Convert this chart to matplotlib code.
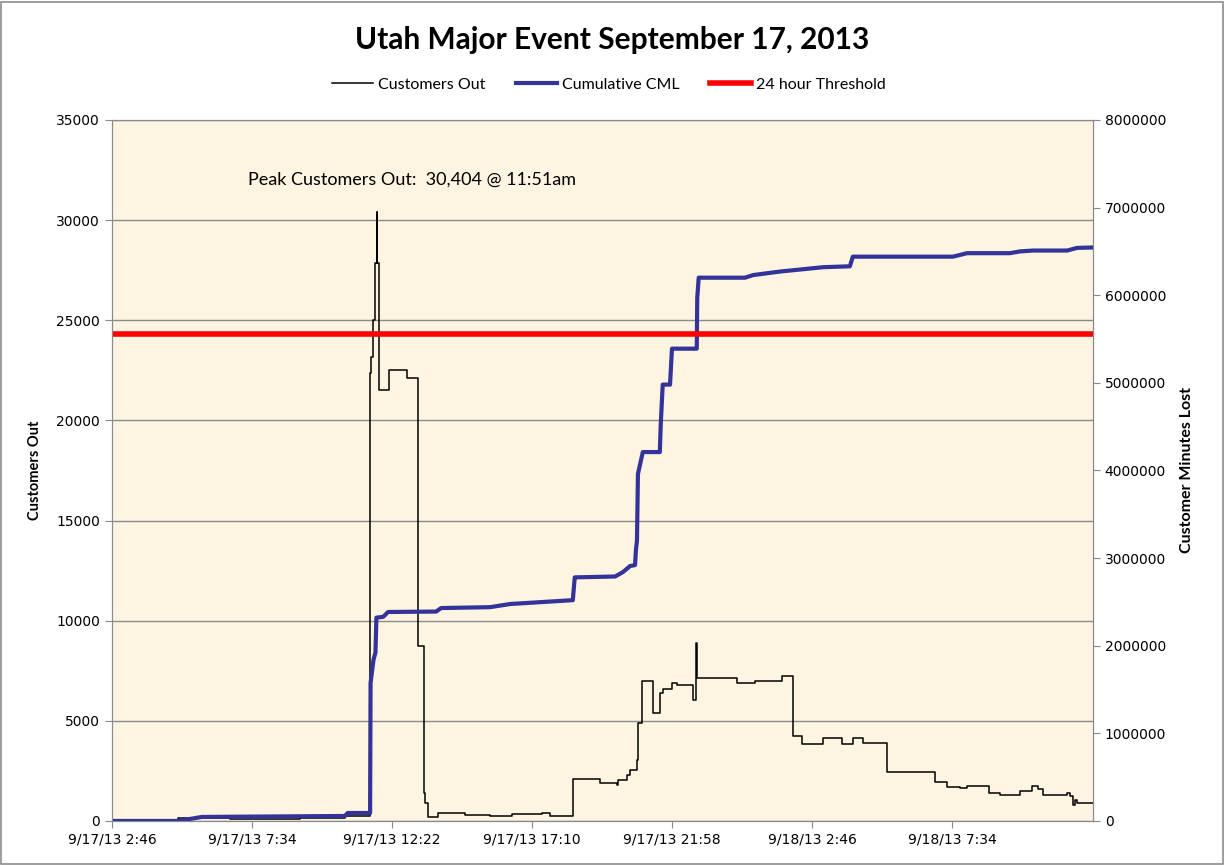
import numpy as np
import pandas as pd
import matplotlib
matplotlib.use("Agg")
import matplotlib.pyplot as plt
from matplotlib.patches import Rectangle
from matplotlib.ticker import FuncFormatter

# customers out (left axis), step values
out_times = ["2013-09-17 02:46", "2013-09-17 05:02", "2013-09-17 06:49", "2013-09-17 09:13",
             "2013-09-17 10:45", "2013-09-17 11:37", "2013-09-17 11:39", "2013-09-17 11:44",
             "2013-09-17 11:48", "2013-09-17 11:51", "2013-09-17 11:52", "2013-09-17 11:55",
             "2013-09-17 12:16", "2013-09-17 12:53", "2013-09-17 13:15", "2013-09-17 13:28",
             "2013-09-17 13:30", "2013-09-17 13:36", "2013-09-17 13:57", "2013-09-17 14:07",
             "2013-09-17 14:52", "2013-09-17 15:44", "2013-09-17 16:29", "2013-09-17 17:31",
             "2013-09-17 17:47", "2013-09-17 18:34", "2013-09-17 19:30", "2013-09-17 20:05",
             "2013-09-17 20:07", "2013-09-17 20:25", "2013-09-17 20:32", "2013-09-17 20:46",
             "2013-09-17 20:48", "2013-09-17 20:56", "2013-09-17 21:19", "2013-09-17 21:33",
             "2013-09-17 21:39", "2013-09-17 21:58", "2013-09-17 22:08", "2013-09-17 22:41",
             "2013-09-17 22:47", "2013-09-17 22:49", "2013-09-18 00:12", "2013-09-18 00:49",
             "2013-09-18 01:44", "2013-09-18 02:07", "2013-09-18 02:25", "2013-09-18 03:09",
             "2013-09-18 03:48", "2013-09-18 04:10", "2013-09-18 04:31", "2013-09-18 05:20",
             "2013-09-18 06:59", "2013-09-18 07:24", "2013-09-18 07:50", "2013-09-18 08:05",
             "2013-09-18 08:50", "2013-09-18 09:13", "2013-09-18 09:54", "2013-09-18 10:19",
             "2013-09-18 10:31", "2013-09-18 10:41", "2013-09-18 11:31", "2013-09-18 11:37",
             "2013-09-18 11:43", "2013-09-18 11:47", "2013-09-18 11:51", "2013-09-18 12:24"]
customers_out = [20, 150, 120, 150,
                 250, 22370, 23170, 25000,
                 27860, 30404, 27860, 21520,
                 22520, 22120, 8740, 1400,
                 900, 200, 400, 420,
                 300, 250, 350, 420,
                 250, 2100, 1900, 1800,
                 2050, 2300, 2550, 3050,
                 4900, 7000, 5390, 6390,
                 6600, 6890, 6790, 6040,
                 8900, 7140, 6890, 6990,
                 7240, 4240, 3840, 4140,
                 3840, 4140, 3900, 2450,
                 1950, 1700, 1650, 1750,
                 1400, 1300, 1500, 1750,
                 1600, 1300, 1400, 1250,
                 800, 1050, 900, 900]

# cumulative customer minutes lost (right axis)
cml_times = ["2013-09-17 02:46", "2013-09-17 05:02", "2013-09-17 05:51", "2013-09-17 10:45",
             "2013-09-17 10:51", "2013-09-17 11:33", "2013-09-17 11:37", "2013-09-17 11:38",
             "2013-09-17 11:44", "2013-09-17 11:48", "2013-09-17 11:50", "2013-09-17 12:04",
             "2013-09-17 12:14", "2013-09-17 13:53", "2013-09-17 14:03", "2013-09-17 15:44",
             "2013-09-17 16:25", "2013-09-17 18:34", "2013-09-17 18:38", "2013-09-17 20:01",
             "2013-09-17 20:17", "2013-09-17 20:32", "2013-09-17 20:42", "2013-09-17 20:44",
             "2013-09-17 20:46", "2013-09-17 20:48", "2013-09-17 20:58", "2013-09-17 21:33",
             "2013-09-17 21:35", "2013-09-17 21:39", "2013-09-17 21:54", "2013-09-17 21:58",
             "2013-09-17 22:49", "2013-09-17 22:50", "2013-09-17 22:53", "2013-09-18 00:28",
             "2013-09-18 00:45", "2013-09-18 01:40", "2013-09-18 03:09", "2013-09-18 04:04",
             "2013-09-18 04:10", "2013-09-18 07:36", "2013-09-18 08:05", "2013-09-18 09:33",
             "2013-09-18 09:54", "2013-09-18 10:21", "2013-09-18 11:31", "2013-09-18 11:51",
             "2013-09-18 12:24"]
cml = [0, 0, 46000, 57000,
       91000, 91000, 91000, 1575000,
       1840000, 1920000, 2320000, 2330000,
       2385000, 2390000, 2430000, 2440000,
       2476000, 2520000, 2780000, 2790000,
       2840000, 2910000, 2920000, 3100000,
       3200000, 3960000, 4210000, 4210000,
       4540000, 4980000, 4980000, 5390000,
       5390000, 5970000, 6200000, 6200000,
       6230000, 6270000, 6320000, 6330000,
       6440000, 6440000, 6480000, 6480000,
       6500000, 6510000, 6510000, 6540000,
       6545000]

threshold = 5560000
x_start = "2013-09-17 02:46"
x_end = "2013-09-18 12:24"

t_out = pd.to_datetime(out_times)
t_cml = pd.to_datetime(cml_times)
t0 = pd.Timestamp(x_start)
t1 = pd.Timestamp(x_end)

fig = plt.figure(figsize=(12.25, 8.65), dpi=100)
fig.patches.append(Rectangle((0.001, 0.001), 0.997, 0.997, transform=fig.transFigure,
                             fill=False, edgecolor="#8c8c8c", linewidth=1.2))
ax = fig.add_axes([0.0914, 0.0509, 0.8008, 0.8104])
ax.set_facecolor("#fdf4e1")
ax2 = ax.twinx()

ax.plot(t_out, customers_out, color="black", linewidth=1.1, drawstyle="steps-post",
        label="Customers Out")
ax2.plot(t_cml, cml, color="#333399", linewidth=3, label="Cumulative CML")
ax2.plot([t0, t1], [threshold, threshold], color="#ff0000", linewidth=4,
         label="24 hour Threshold")

ax.set_ylim(0, 35000)
ax.set_yticks(np.arange(0, 35001, 5000))
ax2.set_ylim(0, 8000000)
ax2.set_yticks(np.arange(0, 8000001, 1000000))
ax2.yaxis.set_major_formatter(FuncFormatter(lambda v, p: f"{int(v)}"))
ax.set_xlim(t0, t1)

ticks = [t0 + pd.Timedelta(minutes=288 * i) for i in range(7)]
ax.set_xticks(ticks)
ax.set_xticklabels([f"{d.month}/{d.day}/{d:%y} {d.hour}:{d.minute:02d}" for d in ticks])

ax.grid(axis="y", color="#8a8a8a", linewidth=1)
ax.set_axisbelow(True)
for a in (ax, ax2):
    for s in a.spines.values():
        s.set_color("#8a8a8a")
    a.tick_params(labelsize=10, color="#8a8a8a", length=5, direction="out")

ax.set_ylabel("Customers Out", fontfamily="Lato", fontweight="bold", fontsize=10.5, labelpad=10)
ax2.set_ylabel("Customer Minutes Lost", fontfamily="Lato", fontweight="bold", fontsize=11.5,
               rotation=90, labelpad=10)

ax.text(pd.Timestamp("2013-09-17 07:25"), 32000,
        "Peak Customers Out:  30,404 @ 11:51am", fontfamily="Lato", fontsize=13,
        va="center", ha="left")

fig.text(0.5, 0.954, "Utah Major Event September 17, 2013", fontfamily="Lato",
         fontweight="bold", fontsize=21.5, ha="center", va="center")

h1, l1 = ax.get_legend_handles_labels()
h2, l2 = ax2.get_legend_handles_labels()
fig.legend(h1 + h2, l1 + l2, loc="center", bbox_to_anchor=(0.497, 0.902), ncol=3,
           frameon=False, prop={"family": "Lato", "size": 11.5}, handlelength=2.6,
           columnspacing=1.9, handletextpad=0.3)

fig.savefig("out.png", dpi=100)
